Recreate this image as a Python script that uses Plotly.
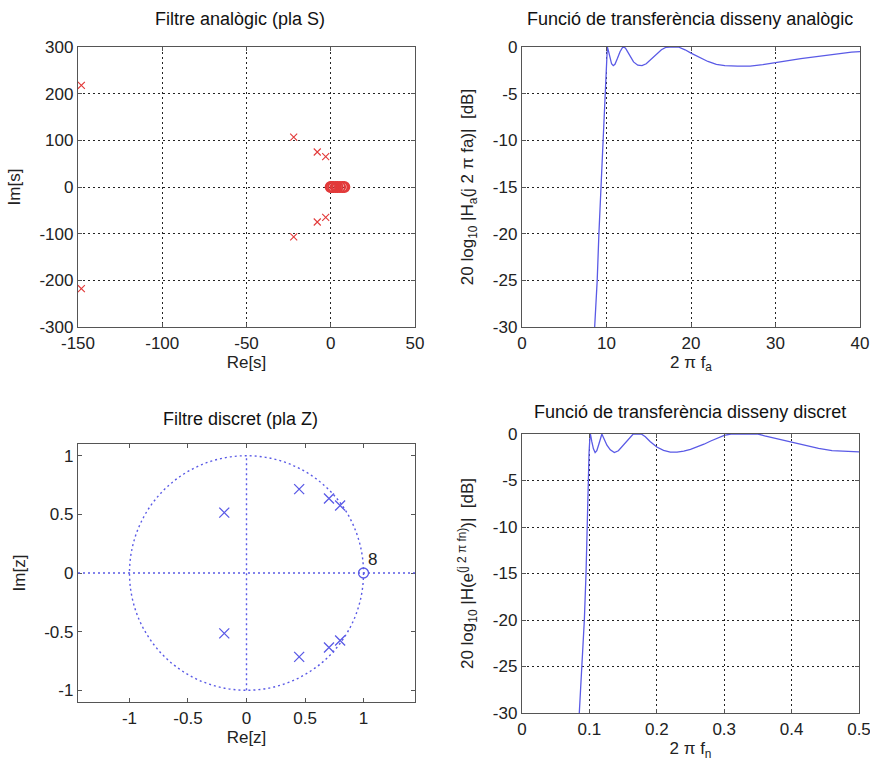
import plotly.graph_objects as go

# ---- s-plane (analog prototype) ----
s_pole_re = [-148, -148, -22, -22, -8, -8, -3, -3]
s_pole_im = [218, -218, 107, -107, 75, -75, 65, -65]
s_zero_re = [0, 0.5, 1.5, 3, 4, 5.5, 7, 8]
s_zero_im = [0, 0, 0, 0, 0, 0, 0, 0]

# ---- analog magnitude response ----
wa = [8.6, 8.9, 9.1, 9.35, 9.6, 9.8, 9.92, 10.0, 10.1, 10.2, 10.4, 10.6, 10.8, 11.0,
      11.3, 11.6, 11.9, 12.1, 12.3, 12.7, 13.2, 13.7, 14.2, 14.7, 15.3, 15.9, 16.5,
      17.0, 17.5, 18.5, 19.3, 20, 21, 22, 23, 24, 25.5, 27, 28.5, 30, 31.5, 33, 35,
      37, 39, 40]
ha_db = [-30, -25, -20, -15, -10, -5, -2.7, -1.0, 0, -0.3, -1.2, -1.8, -2.0, -1.85,
         -1.2, -0.5, -0.05, 0, -0.2, -0.9, -1.6, -1.95, -2.0, -1.8, -1.3, -0.8, -0.3,
         -0.05, 0, 0, -0.3, -0.66, -1.15, -1.55, -1.85, -2.0, -2.05, -2.05, -1.9,
         -1.65, -1.45, -1.25, -1.0, -0.75, -0.55, -0.5]

# ---- z-plane (discrete design) ----
z_pole_re = [-0.19, -0.19, 0.45, 0.45, 0.705, 0.705, 0.80, 0.80]
z_pole_im = [0.515, -0.515, 0.715, -0.715, 0.635, -0.635, 0.575, -0.575]
z_zero_re = [1.0]
z_zero_im = [0.0]
z_zero_mult = "8"

# ---- discrete magnitude response ----
fn = [0.085, 0.089, 0.0925, 0.095, 0.0965, 0.098, 0.0995, 0.1008, 0.1015, 0.1035,
      0.106, 0.1085, 0.111, 0.114, 0.1165, 0.1185, 0.121, 0.126, 0.131, 0.137, 0.143,
      0.149, 0.155, 0.161, 0.165, 0.177, 0.183, 0.19, 0.2, 0.21, 0.22, 0.23, 0.24,
      0.25, 0.26, 0.27, 0.28, 0.29, 0.3, 0.31, 0.35, 0.36, 0.38, 0.4, 0.42, 0.44,
      0.46, 0.48, 0.5]
h_db = [-30, -25, -20, -15, -10, -5, -2, -0.3, 0, -0.8, -1.6, -2.0, -1.8, -1.1, -0.4,
        0, -0.4, -1.2, -1.7, -2.0, -1.8, -1.3, -0.8, -0.3, 0, 0, -0.3, -0.8, -1.4,
        -1.75, -1.95, -1.95, -1.85, -1.65, -1.4, -1.1, -0.75, -0.45, -0.15, 0, 0,
        -0.2, -0.55, -0.92, -1.25, -1.55, -1.78, -1.88, -1.92]

# tick values per axis
s_re_ticks = [-150, -100, -50, 0, 50]
s_im_ticks = [-300, -200, -100, 0, 100, 200, 300]
wa_ticks = [0, 10, 20, 30, 40]
db_ticks = [-30, -25, -20, -15, -10, -5, 0]
z_ticks = [-1, -0.5, 0, 0.5, 1]
fn_ticks = [0, 0.1, 0.2, 0.3, 0.4, 0.5]

RED = "#e23a3a"
BLUE = "#5a5ae6"
TEXT = "#222222"
FONT = "Liberation Sans, Arial, sans-serif"
W, H = 870, 767
TICK_SIZE = 17
LABEL_SIZE = 17

fig = go.Figure()

fig.add_trace(go.Scatter(x=s_pole_re, y=s_pole_im, mode="markers", xaxis="x", yaxis="y",
                         marker=dict(symbol="x-thin-open", size=7, color=RED,
                                     line=dict(color=RED, width=1.1))))
fig.add_trace(go.Scatter(x=s_zero_re, y=s_zero_im, mode="markers", xaxis="x", yaxis="y",
                         marker=dict(symbol="circle-open", size=10, color=RED,
                                     line=dict(color=RED, width=2.2))))
fig.add_trace(go.Scatter(x=wa, y=ha_db, mode="lines", xaxis="x2", yaxis="y2",
                         line=dict(color=BLUE, width=1.3)))
fig.add_trace(go.Scatter(x=z_pole_re, y=z_pole_im, mode="markers", xaxis="x3", yaxis="y3",
                         marker=dict(symbol="x-thin-open", size=10, color=BLUE,
                                     line=dict(color=BLUE, width=1.3))))
fig.add_trace(go.Scatter(x=z_zero_re, y=z_zero_im, mode="markers", xaxis="x3", yaxis="y3",
                         marker=dict(symbol="circle-open", size=10, color=BLUE,
                                     line=dict(color=BLUE, width=1.3))))
fig.add_trace(go.Scatter(x=fn, y=h_db, mode="lines", xaxis="x4", yaxis="y4",
                         line=dict(color=BLUE, width=1.3)))


def px_dom_x(a, b):
    return [a / W, b / W]


def px_dom_y(top, bottom):
    return [1 - bottom / H, 1 - top / H]


def tick_text(vals):
    # plain hyphen for negative numbers
    return [("%g" % v) for v in vals]


def axis(dom, rng, ticks, anchor, grid, title, standoff=2):
    return dict(domain=dom, range=rng, tickvals=ticks, ticktext=tick_text(ticks),
                anchor=anchor, automargin=False, ticklabeloverflow="allow",
                showgrid=grid, gridcolor="#222", griddash="2px,3px", gridwidth=1.3,
                zeroline=False, showline=True, linecolor="#555", linewidth=1.3,
                mirror="ticks", ticks="inside", ticklen=4, tickcolor="#555",
                tickfont=dict(family=FONT, size=TICK_SIZE, color=TEXT),
                title=dict(text=title, font=dict(family=FONT, size=LABEL_SIZE, color=TEXT),
                           standoff=standoff))


YS = 14  # y-title distance from tick labels

layout = dict(
    width=W, height=H, margin=dict(l=0, r=0, t=0, b=0),
    paper_bgcolor="white", plot_bgcolor="white", showlegend=False,
    xaxis=axis(px_dom_x(78, 415), [-150, 50], s_re_ticks, "y", True, "Re[s]"),
    yaxis=axis(px_dom_y(47, 327), [-300, 300], s_im_ticks, "x", True, "Im[s]", YS),
    xaxis2=axis(px_dom_x(522, 860), [0, 40], wa_ticks, "y2", True, "2 π f<sub>a</sub>"),
    yaxis2=axis(px_dom_y(47, 327), [-30, 0], db_ticks, "x2", True,
                "20 log<sub>10</sub> |H<sub>a</sub>(j 2 π fa)|  [dB]", YS),
    xaxis3=axis(px_dom_x(78, 415), [-1.44, 1.44], z_ticks, "y3", False, "Re[z]"),
    yaxis3=axis(px_dom_y(444, 702), [-1.1, 1.1], z_ticks, "x3", False, "Im[z]", YS),
    xaxis4=axis(px_dom_x(522, 859), [0, 0.5], fn_ticks, "y4", True, "2 π f<sub>n</sub>", 4),
    yaxis4=axis(px_dom_y(434, 713), [-30, 0], db_ticks, "x4", True,
                "20 log<sub>10</sub> |H(e<sup>(j 2 π fn)</sup>)|  [dB]", YS),
)
fig.update_layout(**layout)

# unit circle and real/imag axes of the z-plane
fig.add_shape(type="circle", xref="x3", yref="y3", x0=-1, y0=-1, x1=1, y1=1,
              line=dict(color=BLUE, width=1.4, dash="2px,3px"))
fig.add_shape(type="line", xref="x3", yref="y3", x0=-1.44, x1=1.44, y0=0, y1=0,
              line=dict(color=BLUE, width=1.4, dash="2px,3px"))
fig.add_shape(type="line", xref="x3", yref="y3", x0=0, x1=0, y0=-1, y1=1,
              line=dict(color=BLUE, width=1.4, dash="2px,3px"))

fig.add_annotation(x=z_zero_re[0], y=z_zero_im[0], xref="x3", yref="y3",
                   text=z_zero_mult, showarrow=False, xanchor="left", yanchor="bottom",
                   xshift=2, yshift=2, font=dict(family=FONT, size=TICK_SIZE, color=TEXT))

titles = [
    ("Filtre analògic (pla S)", 240, 19),
    ("Funció de transferència disseny analògic", 690, 19),
    ("Filtre discret (pla Z)", 240, 419),
    ("Funció de transferència disseny discret", 690, 412),
]
for text, xc, yc in titles:
    fig.add_annotation(x=xc / W, y=1 - yc / H, xref="paper", yref="paper", text=text,
                       showarrow=False, xanchor="center", yanchor="middle",
                       font=dict(family=FONT, size=18, color="#111"))

fig.write_html("out.html")
